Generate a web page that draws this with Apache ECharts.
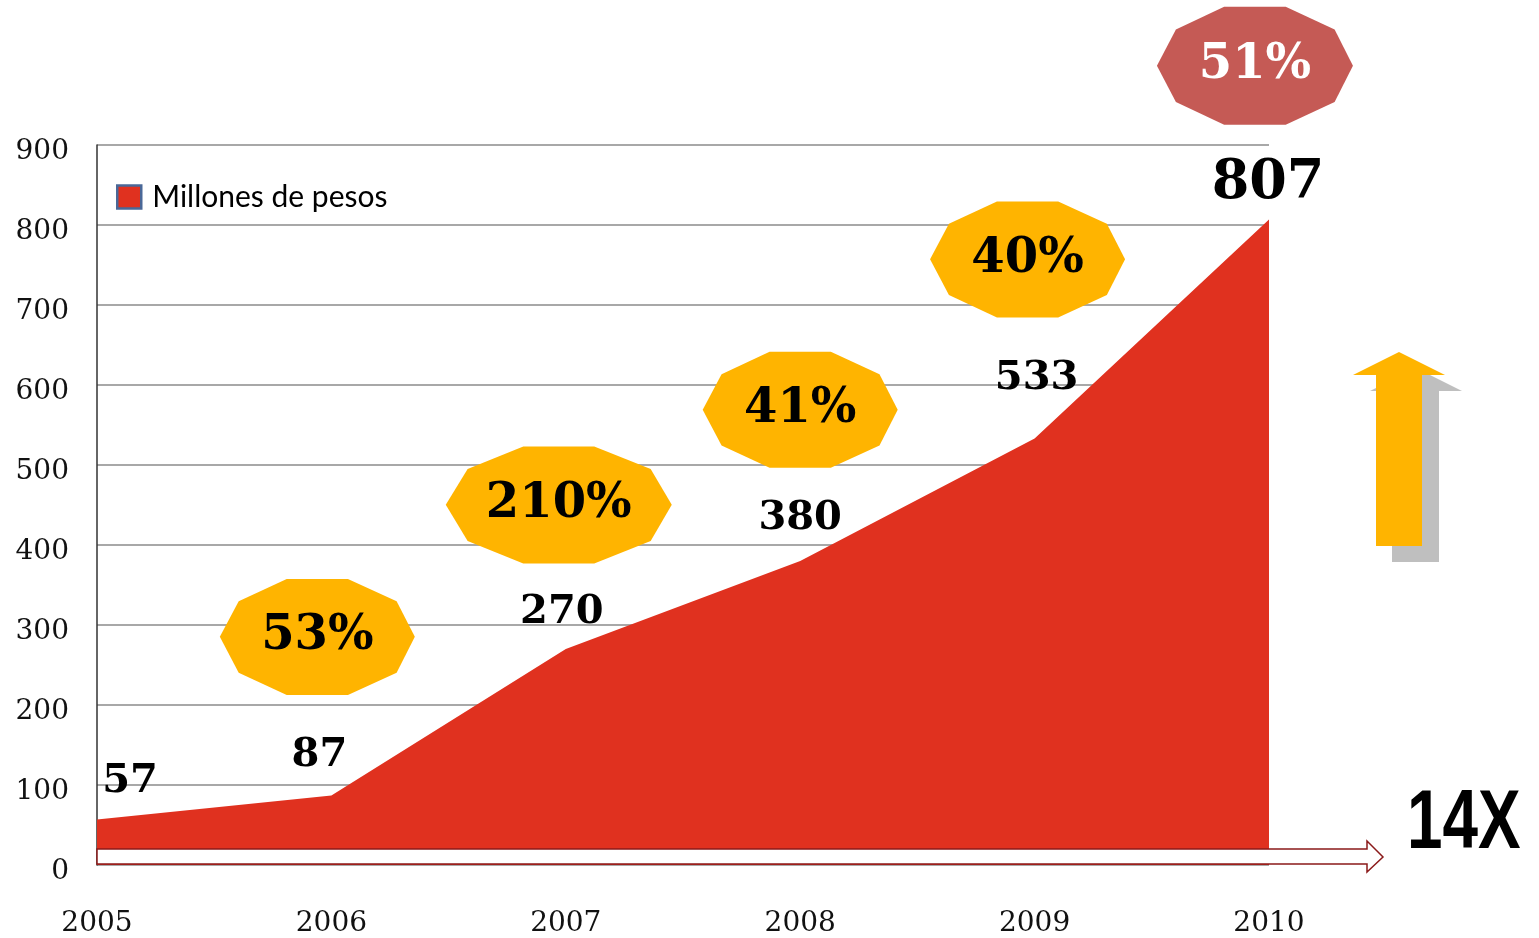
<!DOCTYPE html>
<html>
<head>
<meta charset="utf-8">
<script src="https://cdn.jsdelivr.net/npm/echarts@6/dist/echarts.min.js"></script>
<style>
  html, body { margin: 0; padding: 0; background: #fff; }
  #chart { width: 1539px; height: 938px; }
</style>
</head>
<body>
<div id="chart"></div>
<script>
// data
const years = ['2005', '2006', '2007', '2008', '2009', '2010'];
const revenue = [57, 87, 270, 380, 533, 807];
const growthLabels = ['53%', '210%', '41%', '40%', '51%'];
const seriesName = 'Millones de pesos';

// layout bits (not data)
const serif = '"DejaVu Serif", "Liberation Serif", serif';
const red = '#e0311f';
const yellow = '#ffb400';
// badge anchors, in (year index, value) coordinates
const badgeAnchors = [[0.94, 285], [1.97, 450], [3.0, 569], [3.97, 757], [4.94, 999]];
const badgeSizes = [[195, 116], [226, 117], [195, 116], [195, 116], [196, 118]];
// label centre offsets from each point, px
const labelOffsets = [[33, -38], [-12, -40], [-4, -36], [0, -42], [2, -60], [-1, -35]];

const decagon = 'path://M202,0 L387,0 L534,68 L589,176 L534,285 L387,353 L202,353 L57,285 L0,176 L57,68 Z';

const gridLeft = 97, gridRight = 270, gridTop = 145, gridBottom = 73;

const chart = echarts.init(document.getElementById('chart'));

const option = {
  animation: false,
  backgroundColor: '#fff',
  grid: { left: gridLeft, right: gridRight, top: gridTop, bottom: gridBottom },
  legend: {
    data: [seriesName],
    left: 111,
    top: 177,
    icon: 'rect',
    itemWidth: 24,
    itemHeight: 23,
    itemStyle: { borderColor: '#4a6898', borderWidth: 2.5 },
    textStyle: { fontFamily: 'Lato, "Open Sans", sans-serif', fontSize: 30, color: '#000', padding: [0, 0, 0, 6] }
  },
  xAxis: [
    {
      type: 'category',
      data: years,
      boundaryGap: false,
      axisLine: { show: false },
      axisTick: { show: false },
      axisLabel: { fontFamily: serif, fontSize: 28, color: '#111', margin: 45 }
    },
    { type: 'value', min: 0, max: years.length - 1, show: false }
  ],
  yAxis: {
    type: 'value',
    min: 0,
    max: 900,
    interval: 100,
    axisLine: { show: true, lineStyle: { color: '#333', width: 1.5 } },
    axisTick: { show: false },
    axisLabel: {
      formatter: '{v|{value}}',
      margin: 28,
      rich: { v: { fontFamily: serif, fontSize: 28, color: '#111', padding: [14, 0, 0, 0] } }
    },
    splitLine: { lineStyle: { color: '#a8a8a8', width: 2 } }
  },
  series: [
    {
      name: seriesName,
      type: 'line',
      data: revenue.map((v, i) => ({
        value: v,
        label: { offset: labelOffsets[i], fontSize: i === revenue.length - 1 ? 54 : 40 }
      })),
      symbol: 'circle',
      symbolSize: 0.1,
      itemStyle: { color: red },
      lineStyle: { width: 0 },
      areaStyle: { color: red, opacity: 1 },
      label: {
        show: true,
        position: 'inside',
        color: '#000',
        fontFamily: serif,
        fontWeight: 'bold'
      },
      emphasis: { disabled: true },
      z: 2
    },
    {
      type: 'scatter',
      xAxisIndex: 1,
      clip: false,
      symbol: decagon,
      data: growthLabels.map((t, i) => ({
        name: t,
        value: badgeAnchors[i],
        symbolSize: badgeSizes[i],
        itemStyle: { color: i === 4 ? '#c55a55' : yellow, opacity: 1 },
        label: { color: i === 4 ? '#fff' : '#000' }
      })),
      label: {
        show: true,
        position: 'inside',
        formatter: '{b}',
        fontFamily: serif,
        fontWeight: 'bold',
        fontSize: 48
      },
      emphasis: { disabled: true },
      z: 5
    }
  ],
  graphic: [
    // hollow arrow along the base
    {
      type: 'polygon',
      z: 100,
      shape: { points: [[97, 849], [1367, 849], [1367, 841], [1383, 857], [1367, 872], [1367, 864], [97, 864]] },
      style: { fill: '#fff', stroke: '#8b1a1a', lineWidth: 1.5 }
    },
    // shadow of the up arrow
    {
      type: 'polygon',
      z: 100,
      shape: { points: [[1416, 368], [1462, 391], [1439, 391], [1439, 562], [1392, 562], [1392, 391], [1370, 391]] },
      style: { fill: '#bfbfbf' }
    },
    {
      type: 'polygon',
      z: 101,
      shape: { points: [[1399, 352], [1445, 375], [1422, 375], [1422, 546], [1376, 546], [1376, 375], [1353, 375]] },
      style: { fill: yellow }
    },
    {
      type: 'text',
      z: 101,
      x: 1407,
      y: 783,
      scaleX: 0.76,
      style: {
        text: '14X',
        fill: '#000',
        font: 'bold 84px "Liberation Sans", Arial, sans-serif'
      }
    }
  ]
};

chart.setOption(option);
</script>
</body>
</html>
